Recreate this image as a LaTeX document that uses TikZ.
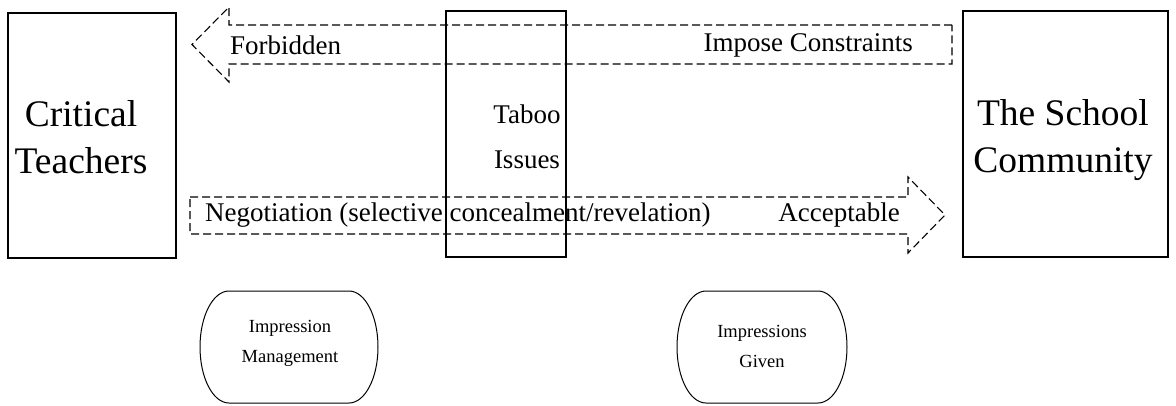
\documentclass[tikz,border=0pt]{standalone}
\usepackage{fontspec}
\setmainfont{Liberation Serif}
\begin{document}
\begin{tikzpicture}[x=1pt,y=-1pt,
  box/.style={draw, line width=1.6pt, inner sep=0pt},
  flow/.style={draw, dash pattern=on 8pt off 4pt, line width=1.1pt},
  capsule/.style={draw, line width=1pt},
  big/.style={font=\fontsize{37.5}{47}\selectfont, align=center},
  mid/.style={font=\fontsize{27}{30}\selectfont, inner sep=0pt},
  small/.style={font=\fontsize{18.5}{30}\selectfont, align=center, inner sep=0pt}]
\useasboundingbox (0,0) rectangle (1176,405);

% dashed flow arrows
\draw[flow] (952,25) -- (229,25) -- (229,7) -- (192,44.5) -- (229,82) -- (229,64) -- (952,64) -- cycle;
\draw[flow] (190,197) -- (908,197) -- (908,177) -- (945,215) -- (908,253) -- (908,234) -- (190,234) -- cycle;

% arrow labels
\node[mid, anchor=west] (forb) at (230,45) {Forbidden};
\node[mid, anchor=east] (impose) at (913,45) {Impose Constraints};
\node[mid, anchor=west] (nego) at (205,215) {Negotiation (selective concealment/revelation)};
\node[mid, anchor=east] (accept) at (900,215) {Acceptable};

% main boxes
\node[box, minimum width=168pt, minimum height=245pt] (ct) at (92,135.5) {};
\node[big] (cttext) at (81,137) {Critical\\Teachers};
\node[box, minimum width=120pt, minimum height=246pt] (taboo) at (506,134) {};
\node[font=\fontsize{27}{45}\selectfont, align=center] (tabootext) at (527,137) {Taboo\\Issues};
\node[box, minimum width=205pt, minimum height=246pt] (sc) at (1065.5,134) {};
\node[big] (sctext) at (1063,140) {The School\\Community};

% capsules
\draw[capsule] (229,291) -- (349,291) arc[start angle=-90, end angle=90, x radius=29, y radius=56]
  -- (229,403) arc[start angle=90, end angle=270, x radius=29, y radius=56] -- cycle;
\node[small] (im) at (290,343) {Impression\\Management};
\draw[capsule] (706,291) -- (818,291) arc[start angle=-90, end angle=90, x radius=29, y radius=56]
  -- (706,403) arc[start angle=90, end angle=270, x radius=29, y radius=56] -- cycle;
\node[small] (ig) at (762,346) {Impressions\\Given};
\end{tikzpicture}
\end{document}
